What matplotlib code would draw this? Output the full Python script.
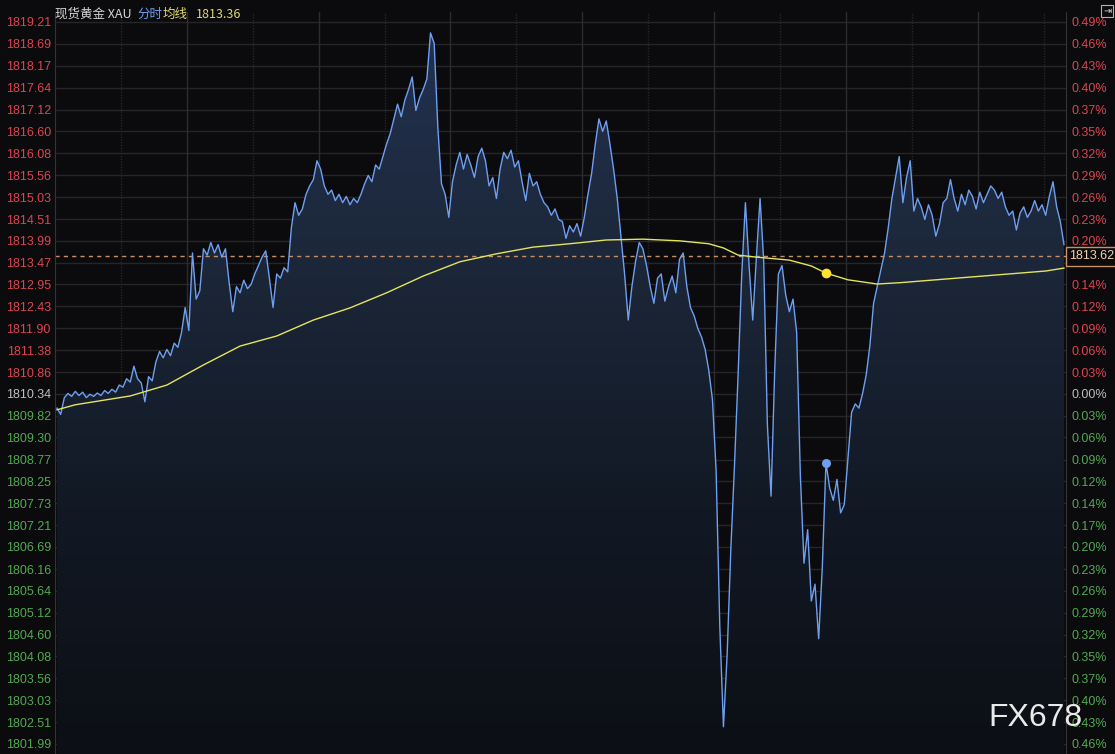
import numpy as np
import matplotlib
matplotlib.use('Agg')
import matplotlib.pyplot as plt
from matplotlib.colors import LinearSegmentedColormap
from matplotlib.patches import Rectangle
import matplotlib.transforms as mtransforms

# ---------------- data ----------------
# 5-minute sampled spot gold prices (XAU) over the session
prices = [
    1810.00, 1809.85, 1810.25, 1810.35, 1810.28, 1810.40, 1810.30, 1810.38, 1810.25, 1810.33,
    1810.28, 1810.36, 1810.30, 1810.42, 1810.35, 1810.45, 1810.38, 1810.55, 1810.50, 1810.70,
    1810.62, 1811.00, 1810.70, 1810.60, 1810.15, 1810.75, 1810.65, 1811.10, 1811.35, 1811.20,
    1811.40, 1811.25, 1811.55, 1811.45, 1811.80, 1812.40, 1811.85, 1813.70, 1812.60, 1812.80,
    1813.80, 1813.65, 1813.95, 1813.70, 1813.90, 1813.60, 1813.80, 1813.00, 1812.30, 1812.90,
    1812.75, 1813.05, 1812.85, 1812.95, 1813.20, 1813.40, 1813.60, 1813.75, 1813.10, 1812.40,
    1813.20, 1813.10, 1813.35, 1813.25, 1814.30, 1814.90, 1814.60, 1814.75, 1815.10, 1815.30,
    1815.45, 1815.90, 1815.70, 1815.30, 1815.10, 1815.20, 1814.95, 1815.10, 1814.90, 1815.05,
    1814.85, 1815.00, 1814.90, 1815.10, 1815.35, 1815.55, 1815.40, 1815.80, 1815.70, 1816.00,
    1816.30, 1816.55, 1816.90, 1817.25, 1816.95, 1817.35, 1817.60, 1817.90, 1817.10, 1817.40,
    1817.60, 1817.85, 1818.95, 1818.70, 1816.70, 1815.35, 1815.10, 1814.55, 1815.40, 1815.80,
    1816.10, 1815.70, 1816.05, 1815.80, 1815.50, 1816.00, 1816.20, 1815.90, 1815.30, 1815.50,
    1815.00, 1815.70, 1816.10, 1815.95, 1816.15, 1815.75, 1815.90, 1815.40, 1814.95, 1815.60,
    1815.30, 1815.40, 1815.10, 1814.90, 1814.80, 1814.60, 1814.75, 1814.50, 1814.45, 1814.05,
    1814.35, 1814.20, 1814.40, 1814.10, 1814.55, 1815.10, 1815.60, 1816.30, 1816.90, 1816.60,
    1816.85, 1816.30, 1815.70, 1815.00, 1814.10, 1813.20, 1812.10, 1812.90, 1813.50, 1813.95,
    1813.80, 1813.40, 1812.90, 1812.50, 1813.10, 1813.20, 1812.55, 1812.90, 1813.15, 1812.75,
    1813.55, 1813.70, 1812.90, 1812.40, 1812.20, 1811.90, 1811.70, 1811.40, 1810.90, 1810.20,
    1808.50, 1804.80, 1802.40, 1804.10, 1806.60, 1808.60, 1810.80, 1813.20, 1814.90, 1813.40,
    1812.10, 1813.60, 1815.00, 1813.50, 1809.60, 1807.90, 1810.90, 1813.20, 1813.40, 1812.70,
    1812.30, 1812.60, 1811.80, 1808.40, 1806.30, 1807.10, 1805.40, 1805.80, 1804.50, 1806.20,
    1808.70, 1808.10, 1807.80, 1808.30, 1807.50, 1807.70, 1808.80, 1809.90, 1810.10, 1810.00,
    1810.35, 1810.80, 1811.50, 1812.50, 1812.90, 1813.30, 1813.70, 1814.30, 1815.00, 1815.50,
    1816.00, 1814.90, 1815.50, 1815.90, 1814.70, 1815.00, 1814.80, 1814.50, 1814.85, 1814.60,
    1814.10, 1814.40, 1814.90, 1815.00, 1815.45, 1815.00, 1814.70, 1815.10, 1814.85, 1815.20,
    1815.05, 1814.75, 1815.15, 1814.90, 1815.10, 1815.30, 1815.20, 1815.00, 1815.15, 1814.80,
    1814.60, 1814.70, 1814.25, 1814.65, 1814.80, 1814.55, 1814.70, 1814.95, 1814.70, 1814.85,
    1814.60, 1815.05, 1815.40, 1814.80, 1814.45, 1813.90,
]

# average line (均线), sampled at these indices
avg_idx = [0, 5, 10, 20, 30, 40, 50, 60, 70, 80, 90, 100, 110, 120, 130, 140, 150, 160,
           170, 178, 182, 186, 190, 200, 206, 210, 216, 224, 230, 240, 250, 260, 270, 275]
avg_vals = [1809.96, 1810.08, 1810.15, 1810.29, 1810.55, 1811.03, 1811.48, 1811.72, 1812.10,
            1812.39, 1812.75, 1813.15, 1813.49, 1813.68, 1813.84, 1813.92, 1814.01, 1814.03,
            1813.99, 1813.92, 1813.82, 1813.65, 1813.61, 1813.53, 1813.39, 1813.22, 1813.06,
            1812.96, 1812.99, 1813.06, 1813.13, 1813.20, 1813.27, 1813.34]

tick_values = [1819.21, 1818.69, 1818.17, 1817.64, 1817.12, 1816.60, 1816.08, 1815.56,
               1815.03, 1814.51, 1813.99, 1813.47, 1812.95, 1812.43, 1811.90, 1811.38,
               1810.86, 1810.34, 1809.82, 1809.30, 1808.77, 1808.25, 1807.73, 1807.21,
               1806.69, 1806.16, 1805.64, 1805.12, 1804.60, 1804.08, 1803.56, 1803.03,
               1802.51, 1801.99]

prev_close = 1810.34
ref_price = 1813.62
avg_last_label = "1813.36"
marker_idx = 210

# ---------------- style ----------------
W, H = 1115, 754
BG = '#0b0b0d'
RED = '#dc4450'
GREEN = '#52a852'
GRAY = '#bdbdbd'
BLUE = '#6e9ff0'
YEL = '#e4e45e'
GRID = '#262628'

fig = plt.figure(figsize=(W / 100, H / 100), dpi=100, facecolor=BG)
ax = fig.add_axes([55 / W, 0, 1011 / W, 742 / H])
ax.set_facecolor(BG)

x = np.arange(len(prices))
xmin, xmax = -0.55, 275.55
ymin, ymax = 1801.75, 1819.448
ax.set_xlim(xmin, xmax)
ax.set_ylim(ymin, ymax)

# grid
for v in tick_values:
    ax.axhline(v, color=GRID, lw=1, zorder=0)
for k in range(1, 16):
    xv = xmin + 18 * k
    if k % 2 == 0:
        ax.axvline(xv, color='#2c2c2e', lw=1, zorder=0)
    else:
        ax.axvline(xv, color='#262628', lw=1, ls=(0, (1, 1)), zorder=0)

# gradient fill under the price line
poly = ax.fill_between(x, prices, ymin, color='none', lw=0)
cmap = LinearSegmentedColormap.from_list('g', ['#0c0f15', '#121925', '#1c2739', '#223251'])
grad = np.linspace(0, 1, 256).reshape(-1, 1)
im = ax.imshow(grad, extent=[xmin, xmax, ymin, ymax], origin='lower', aspect='auto',
               cmap=cmap, zorder=1, interpolation='bicubic')
im.set_clip_path(poly.get_paths()[0], transform=ax.transData)

# lines
ax.plot(x, prices, color=BLUE, lw=1.0, zorder=3)
ax.plot(avg_idx, avg_vals, color=YEL, lw=1.0, zorder=4)
ax.axhline(ref_price, color='#c98f66', lw=1, ls=(0, (3, 3)), zorder=2)

ax.plot(marker_idx, prices[marker_idx], 'o', color=BLUE, ms=6.5, zorder=5, mec='none')
ax.plot(marker_idx, avg_vals[avg_idx.index(marker_idx)], 'o', color='#ffe22e', ms=7,
        zorder=5, mec='none')

# spines
for s in ['top', 'bottom']:
    ax.spines[s].set_visible(False)
for s in ['left', 'right']:
    ax.spines[s].set_color('#333336')
ax.set_xticks([])

def col(v):
    if abs(v - prev_close) < 1e-6:
        return GRAY
    return RED if v > prev_close else GREEN

ax.set_yticks(tick_values)
ax.set_yticklabels([f'{v:.2f}' for v in tick_values])
ax.tick_params(axis='y', length=0, pad=3, labelsize=9)
for lbl, v in zip(ax.get_yticklabels(), tick_values):
    lbl.set_color(col(v))
    lbl.set_fontfamily('Liberation Sans')

ax2 = ax.twinx()
ax2.set_ylim(ymin, ymax)
ax2.set_yticks(tick_values)
ax2.set_yticklabels([f'{abs((v - prev_close) / prev_close * 100):.2f}%' for v in tick_values])
ax2.tick_params(axis='y', length=0, pad=4, labelsize=9)
for lbl, v in zip(ax2.get_yticklabels(), tick_values):
    lbl.set_color(col(v))
    lbl.set_fontfamily('Liberation Sans')
for s in ['top', 'bottom', 'left', 'right']:
    ax2.spines[s].set_visible(False)

trans = mtransforms.blended_transform_factory(ax2.transAxes, ax2.transData)
ax2.text(1.0035, ref_price, f'{ref_price:.2f}', transform=trans, ha='left', va='center',
         fontsize=9, family='Liberation Sans', color='#f2d2b4', zorder=20, clip_on=False,
         bbox=dict(boxstyle='square,pad=0.3', fc=BG, ec='#c98f66', lw=1))

# title pieces
cjk = ['Noto Sans CJK SC', 'DejaVu Sans']
ty = 1 - 14 / H
fig.text(55 / W, ty, '现货黄金 XAU', color='#d6d6d6', fontsize=9, family=cjk, va='center')
fig.text(137 / W, ty, '分时', color='#6e9ff0', fontsize=9, family=cjk, va='center')
fig.text(163 / W, ty, '均线', color='#e0d86a', fontsize=9, family=cjk, va='center')
fig.text(196 / W, ty, avg_last_label, color='#e0d86a', fontsize=9, family=cjk, va='center')

# top-right icon
fig.patches.append(Rectangle((1101 / W, 1 - 17 / H), 12 / W, 12 / H, transform=fig.transFigure,
                             fill=False, ec='#b0b0b0', lw=0.8))
fig.text(1107 / W, 1 - 11 / H, '⇥', color='#d0d0d0', fontsize=7, ha='center', va='center',
         family='DejaVu Sans')

# watermark
fig.text(1035 / W, 1 - 718 / H, 'FX678', color='#eaeaea', fontsize=23, ha='center',
         va='center', family='Liberation Sans')

fig.savefig('out.png', dpi=100, facecolor=BG)
